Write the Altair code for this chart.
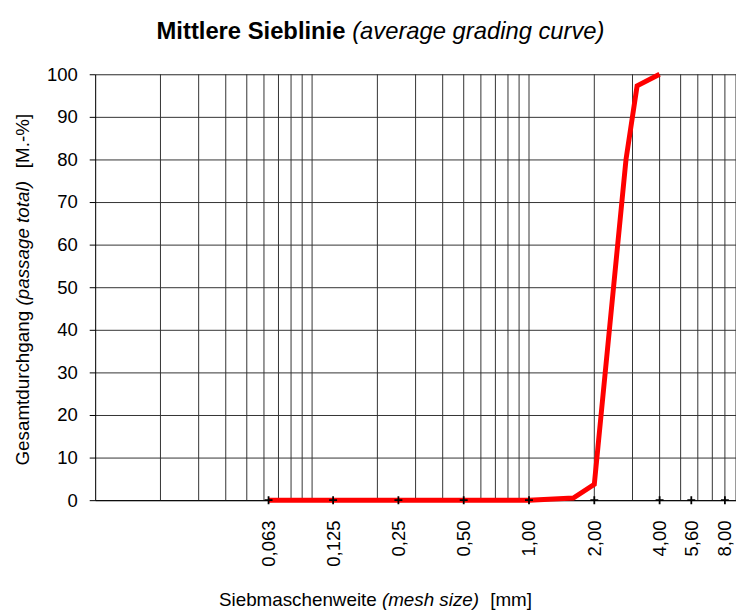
import altair as alt
import pandas as pd

# --- data ---
sizes = [0.063, 0.125, 0.25, 0.5, 1.0, 1.6, 2.0, 2.8, 3.15, 4.0]
passing = [0, 0, 0, 0, 0, 0.5, 3.7, 80, 97.3, 100]

tick_values = [0.063, 0.125, 0.25, 0.5, 1.0, 2.0, 4.0, 5.6, 8.0]
tick_labels = ["0,063", "0,125", "0,25", "0,50", "1,00", "2,00", "4,00", "5,60", "8,00"]

grid_values = [0.02, 0.03, 0.04, 0.05, 0.06, 0.07, 0.08, 0.09,
               0.1, 0.2, 0.3, 0.4, 0.5, 0.6, 0.7, 0.8, 0.9,
               1, 2, 3, 4, 5, 6, 7, 8, 9]
y_ticks = [0, 10, 20, 30, 40, 50, 60, 70, 80, 90, 100]

title_bold = "Mittlere Sieblinie "
title_italic = "(average grading curve)"
x_title = ["Siebmaschenweite ", "(mesh size)", "[mm]"]
y_title = ["Gesamtdurchgang ", "(passage total)", "[M.-%]"]

FONT = "Liberation Sans"
GRID = "#333333"

df = pd.DataFrame({"size": sizes, "pass": passing})
grid_df = pd.DataFrame({"size": grid_values})
tick_df = pd.DataFrame({"size": tick_values, "pass": [0] * len(tick_values)})

xscale = alt.Scale(type="log", domain=[0.01, 9], nice=False)
yscale = alt.Scale(domain=[0, 100], nice=False)

label_expr = ""
for v, l in zip(tick_values, tick_labels):
    label_expr += f"abs(datum.value - {v}) < 1e-9 ? '{l}' : "
label_expr += "''"

x_axis = alt.Axis(values=tick_values, labelExpr=label_expr, labelAngle=-90,
                  ticks=False, grid=False, title=None, domainColor="black",
                  domainWidth=1, labelFontSize=18.67, labelPadding=20,
                  labelColor="black", labelFont=FONT, labelOverlap=False,
                  labelAlign="right", labelBaseline="middle")
y_axis = alt.Axis(values=y_ticks, grid=True, gridColor=GRID, gridWidth=1,
                  gridOpacity=1, tickSize=6, tickColor="black",
                  domainColor="black", domainWidth=1, title=None,
                  labelFontSize=18.67, labelPadding=12, labelColor="black",
                  labelFont=FONT)

grid = alt.Chart(grid_df).mark_rule(color=GRID, strokeWidth=1).encode(
    x=alt.X("size:Q", scale=xscale, axis=x_axis)
)

line = alt.Chart(df).mark_line(color="#ff0000", strokeWidth=5).encode(
    x=alt.X("size:Q", scale=xscale, axis=x_axis),
    y=alt.Y("pass:Q", scale=yscale, axis=y_axis),
)

pts = alt.Chart(tick_df).mark_point(shape="M-1,0L1,0M0,-1L0,1", size=64, filled=False,
                                    stroke="black", strokeWidth=1.8, opacity=1).encode(
    x=alt.X("size:Q", scale=xscale, axis=x_axis),
    y=alt.Y("pass:Q", scale=yscale, axis=y_axis),
)


def txt(t, x, y, size, weight="normal", style="normal", align="left", angle=0):
    return alt.Chart(pd.DataFrame({"t": [t]})).mark_text(
        font=FONT, fontSize=size, fontWeight=weight, fontStyle=style, align=align,
        baseline="alphabetic", angle=angle, color="black"
    ).encode(x=alt.value(x), y=alt.value(y), text="t:N")


texts = [
    txt(title_bold, 62, -36, 24, weight="bold"),
    txt(title_italic, 259.5, -36, 24, style="italic"),
    txt(x_title[0], 125, 537, 19),
    txt(x_title[1], 289.5, 537, 19, style="italic"),
    txt(x_title[2], 441, 537, 19, align="right"),
    txt(y_title[0], -67, 395, 19, angle=270),
    txt(y_title[1], -67, 233.4, 19, style="italic", angle=270),
    txt(y_title[2], -67, 40, 19, align="right", angle=270),
]

chart = alt.layer(grid, line, pts, *texts).properties(
    width=647, height=430,
    autosize=alt.AutoSizeParams(type="none"),
    padding={"left": 88, "top": 64, "right": 0, "bottom": 110},
).configure_view(stroke=None).configure(font=FONT, background="white")

chart.save("out.html", embed_options={"renderer": "svg", "actions": False})
